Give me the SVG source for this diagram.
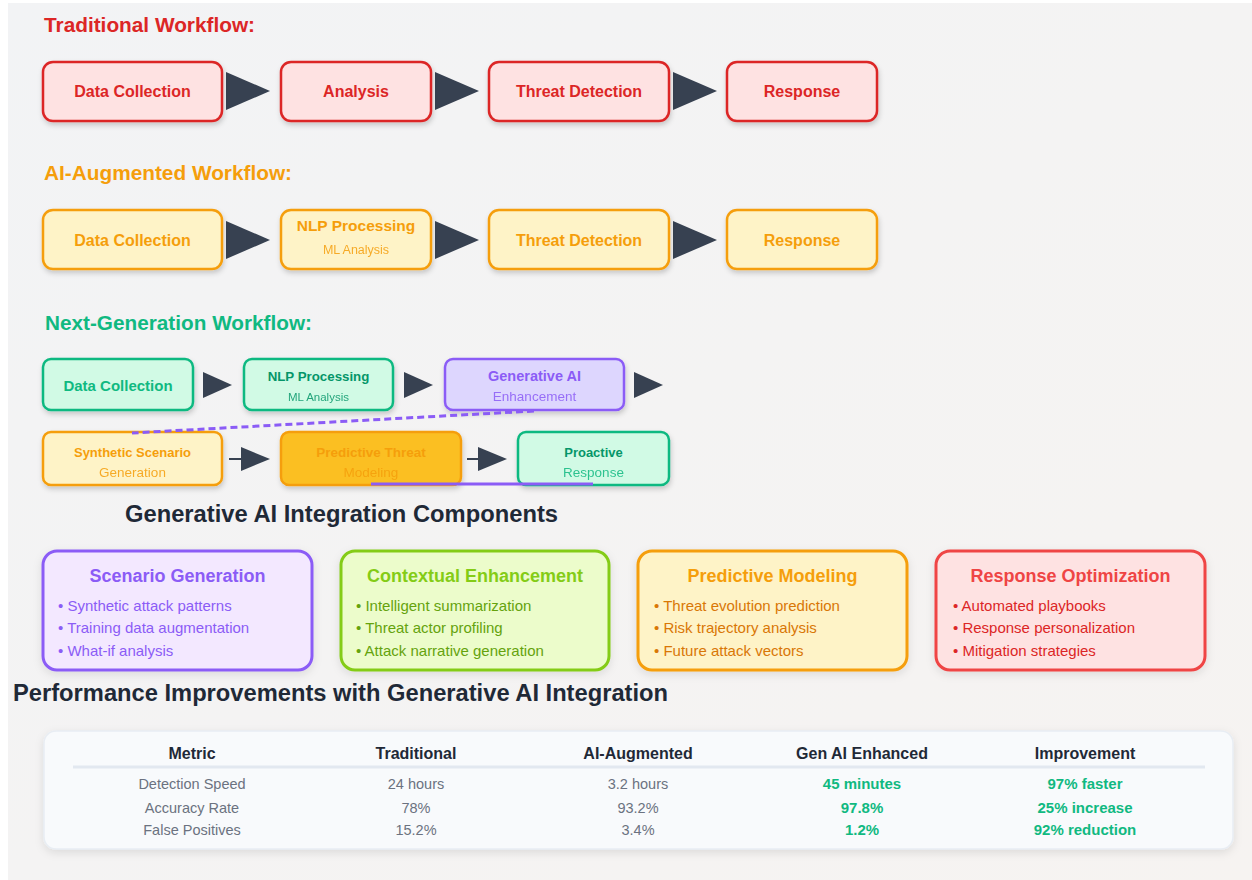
<svg xmlns="http://www.w3.org/2000/svg" width="1252" height="880" viewBox="0 0 1252 880">
<defs>
  <linearGradient id="bg" x1="0" y1="0" x2="1" y2="1">
    <stop offset="0" stop-color="#f2f3f5"/>
    <stop offset="1" stop-color="#f6f3f1"/>
  </linearGradient>
  <filter id="sh" x="-10%" y="-15%" width="125%" height="150%">
    <feDropShadow dx="1" dy="3" stdDeviation="2.5" flood-color="#000" flood-opacity="0.18"/>
  </filter>
  <filter id="sh2" x="-10%" y="-10%" width="125%" height="135%">
    <feDropShadow dx="0" dy="3" stdDeviation="4" flood-color="#000" flood-opacity="0.10"/>
  </filter>
</defs>
<style>
  text { font-family: "Liberation Sans", Arial, Helvetica, sans-serif; }
  .h { font-size: 20.5px; font-weight: bold; }
  .sec { font-size: 23.5px; font-weight: bold; fill: #1f2937; }
  .box { stroke-width: 2.5; filter: url(#sh); }
  .red { fill: #fee2e2; stroke: #dc2626; }
  .amb { fill: #fef3c7; stroke: #f59e0b; }
  .amb2 { fill: #fbbf24; stroke: #f59e0b; }
  .grn { fill: #d1fae5; stroke: #10b981; }
  .pur { fill: #ddd6fe; stroke: #8b5cf6; }
  .lbl { font-weight: bold; text-anchor: middle; }
  .sub { text-anchor: middle; opacity: 0.85; }
  .arr { fill: #374151; }
  .stub { stroke: #374151; stroke-width: 2; }
  .card { stroke-width: 3; filter: url(#sh2); }
  .ct { font-size: 18px; font-weight: bold; text-anchor: middle; }
  .bl { font-size: 15px; }
  .th { font-size: 16px; font-weight: bold; fill: #1f2937; text-anchor: middle; }
  .td { font-size: 14.5px; fill: #6b7280; text-anchor: middle; }
  .tg { font-size: 15px; font-weight: bold; fill: #10b981; text-anchor: middle; }
</style>

<rect x="0" y="0" width="1252" height="880" fill="#ffffff"/>
<rect x="8" y="3" width="1244" height="877" fill="url(#bg)"/>

<!-- Headings -->
<text class="h" x="44" y="32" fill="#dc2626" textLength="211" lengthAdjust="spacingAndGlyphs">Traditional Workflow:</text>
<text class="h" x="44" y="180" fill="#f59e0b" textLength="248" lengthAdjust="spacingAndGlyphs">AI-Augmented Workflow:</text>
<text class="h" x="45" y="330" fill="#10b981" textLength="267" lengthAdjust="spacingAndGlyphs">Next-Generation Workflow:</text>
<text class="sec" x="125" y="522" textLength="433" lengthAdjust="spacingAndGlyphs">Generative AI Integration Components</text>
<text class="sec" x="13" y="701" textLength="655" lengthAdjust="spacingAndGlyphs">Performance Improvements with Generative AI Integration</text>

<!-- Connectors -->
<g id="connectors">
  <polygon class="arr" points="226,72 270,91 226,110"/>
  <polygon class="arr" points="435,72 479,91 435,110"/>
  <polygon class="arr" points="673,72 717,91 673,110"/>
  <polygon class="arr" points="226,221 270,240 226,259"/>
  <polygon class="arr" points="435,221 479,240 435,259"/>
  <polygon class="arr" points="673,221 717,240 673,259"/>
  <polygon class="arr" points="203,372 232,385 203,398"/>
  <polygon class="arr" points="404,372 433,385 404,398"/>
  <polygon class="arr" points="634,372 663,385 634,398"/>
  <line class="stub" x1="229" y1="459" x2="242" y2="459"/>
  <polygon class="arr" points="241,447 270,459 241,471"/>
  <line class="stub" x1="467" y1="459" x2="479" y2="459"/>
  <polygon class="arr" points="478,447 507,459 478,471"/>
</g>

<!-- Traditional workflow -->
<g id="trad-data">
  <rect class="box red" x="43" y="62" width="179" height="59" rx="10"/>
  <text class="lbl" x="132.5" y="97" font-size="16" fill="#dc2626">Data Collection</text>
</g>
<g id="trad-analysis">
  <rect class="box red" x="281" y="62" width="150" height="59" rx="10"/>
  <text class="lbl" x="356" y="97" font-size="16" fill="#dc2626">Analysis</text>
</g>
<g id="trad-threat">
  <rect class="box red" x="489" y="62" width="180" height="59" rx="10"/>
  <text class="lbl" x="579" y="97" font-size="16" fill="#dc2626">Threat Detection</text>
</g>
<g id="trad-response">
  <rect class="box red" x="727" y="62" width="150" height="59" rx="10"/>
  <text class="lbl" x="802" y="97" font-size="16" fill="#dc2626">Response</text>
</g>

<!-- AI-Augmented workflow -->
<g id="ai-data">
  <rect class="box amb" x="43" y="210" width="179" height="59" rx="10"/>
  <text class="lbl" x="132.5" y="246" font-size="16" fill="#f59e0b">Data Collection</text>
</g>
<g id="ai-nlp">
  <rect class="box amb" x="281" y="210" width="150" height="59" rx="10"/>
  <text class="lbl" x="356" y="231" font-size="15.5" fill="#f59e0b">NLP Processing</text>
  <text class="sub" x="356" y="254" font-size="12.5" fill="#f59e0b">ML Analysis</text>
</g>
<g id="ai-threat">
  <rect class="box amb" x="489" y="210" width="180" height="59" rx="10"/>
  <text class="lbl" x="579" y="246" font-size="16" fill="#f59e0b">Threat Detection</text>
</g>
<g id="ai-response">
  <rect class="box amb" x="727" y="210" width="150" height="59" rx="10"/>
  <text class="lbl" x="802" y="246" font-size="16" fill="#f59e0b">Response</text>
</g>

<!-- Next-Generation workflow -->
<g id="ng-data">
  <rect class="box grn" x="43" y="359" width="150" height="51" rx="8"/>
  <text class="lbl" x="118" y="391" font-size="15" fill="#10b981">Data Collection</text>
</g>
<g id="ng-nlp">
  <rect class="box grn" x="244" y="359" width="149" height="51" rx="8"/>
  <text class="lbl" x="318.5" y="381" font-size="13.3" fill="#059669">NLP Processing</text>
  <text class="sub" x="318.5" y="401" font-size="11.5" fill="#059669">ML Analysis</text>
</g>
<g id="ng-genai">
  <rect class="box pur" x="445" y="359" width="179" height="51" rx="8"/>
  <text class="lbl" x="534.5" y="381" font-size="14.5" fill="#8b5cf6">Generative AI</text>
  <text class="sub" x="534.5" y="401" font-size="13.5" fill="#8b5cf6">Enhancement</text>
</g>
<g id="ng-synthetic">
  <rect class="box amb" x="43" y="432" width="179" height="53" rx="8"/>
  <text class="lbl" x="132.5" y="457" font-size="13" fill="#f59e0b">Synthetic Scenario</text>
  <text class="sub" x="132.5" y="477" font-size="13.5" fill="#f59e0b">Generation</text>
</g>
<g id="ng-predictive">
  <rect class="box amb2" x="281" y="432" width="180" height="53" rx="8"/>
  <text class="lbl" x="371" y="457" font-size="13.5" fill="#f59e0b">Predictive Threat</text>
  <text class="sub" x="371" y="477" font-size="13.5" fill="#f59e0b">Modeling</text>
</g>
<g id="ng-proactive">
  <rect class="box grn" x="518" y="432" width="151" height="53" rx="8"/>
  <text class="lbl" x="593.5" y="457" font-size="13" fill="#059669">Proactive</text>
  <text class="sub" x="593.5" y="477" font-size="13.5" fill="#10b981">Response</text>
</g>

<g id="genai-links">
  <line x1="534" y1="411" x2="132" y2="433" stroke="#8b5cf6" stroke-width="3" stroke-dasharray="7 4"/>
  <line x1="371" y1="484" x2="593" y2="484" stroke="#8b5cf6" stroke-width="3"/>
</g>

<!-- Component cards -->
<g id="card-scenario">
  <rect class="card" x="43" y="551" width="269" height="119" rx="14" fill="#f3e8ff" stroke="#8b5cf6"/>
  <text class="ct" x="177.5" y="582" fill="#8b5cf6">Scenario Generation</text>
  <text class="bl" x="58" y="611" fill="#8b5cf6">• Synthetic attack patterns</text>
  <text class="bl" x="58" y="633" fill="#8b5cf6">• Training data augmentation</text>
  <text class="bl" x="58" y="656" fill="#8b5cf6">• What-if analysis</text>
</g>
<g id="card-context">
  <rect class="card" x="341" y="551" width="268" height="119" rx="14" fill="#ecfccb" stroke="#84cc16"/>
  <text class="ct" x="475" y="582" fill="#84cc16">Contextual Enhancement</text>
  <text class="bl" x="356" y="611" fill="#65a30d">• Intelligent summarization</text>
  <text class="bl" x="356" y="633" fill="#65a30d">• Threat actor profiling</text>
  <text class="bl" x="356" y="656" fill="#65a30d">• Attack narrative generation</text>
</g>
<g id="card-predictive">
  <rect class="card" x="638" y="551" width="269" height="119" rx="14" fill="#fef3c7" stroke="#f59e0b"/>
  <text class="ct" x="772.5" y="582" fill="#f59e0b">Predictive Modeling</text>
  <text class="bl" x="654" y="611" fill="#d97706">• Threat evolution prediction</text>
  <text class="bl" x="654" y="633" fill="#d97706">• Risk trajectory analysis</text>
  <text class="bl" x="654" y="656" fill="#d97706">• Future attack vectors</text>
</g>
<g id="card-response">
  <rect class="card" x="936" y="551" width="269" height="119" rx="14" fill="#fee2e2" stroke="#ef4444"/>
  <text class="ct" x="1070.5" y="582" fill="#ef4444">Response Optimization</text>
  <text class="bl" x="953" y="611" fill="#dc2626">• Automated playbooks</text>
  <text class="bl" x="953" y="633" fill="#dc2626">• Response personalization</text>
  <text class="bl" x="953" y="656" fill="#dc2626">• Mitigation strategies</text>
</g>

<!-- Performance table -->
<g id="perf-table">
  <rect x="44" y="731" width="1189" height="118" rx="12" fill="#f8fafc" stroke="#e8edf3" stroke-width="1.5" filter="url(#sh2)"/>
  <text class="th" x="192" y="759">Metric</text>
  <text class="th" x="416" y="759">Traditional</text>
  <text class="th" x="638" y="759">AI-Augmented</text>
  <text class="th" x="862" y="759">Gen AI Enhanced</text>
  <text class="th" x="1085" y="759">Improvement</text>
  <line x1="73" y1="767" x2="1205" y2="767" stroke="#e2e8f0" stroke-width="3"/>
  <text class="td" x="192" y="789">Detection Speed</text>
  <text class="td" x="416" y="789">24 hours</text>
  <text class="td" x="638" y="789">3.2 hours</text>
  <text class="tg" x="862" y="789">45 minutes</text>
  <text class="tg" x="1085" y="789">97% faster</text>
  <text class="td" x="192" y="813">Accuracy Rate</text>
  <text class="td" x="416" y="813">78%</text>
  <text class="td" x="638" y="813">93.2%</text>
  <text class="tg" x="862" y="813">97.8%</text>
  <text class="tg" x="1085" y="813">25% increase</text>
  <text class="td" x="192" y="835">False Positives</text>
  <text class="td" x="416" y="835">15.2%</text>
  <text class="td" x="638" y="835">3.4%</text>
  <text class="tg" x="862" y="835">1.2%</text>
  <text class="tg" x="1085" y="835">92% reduction</text>
</g>
</svg>
